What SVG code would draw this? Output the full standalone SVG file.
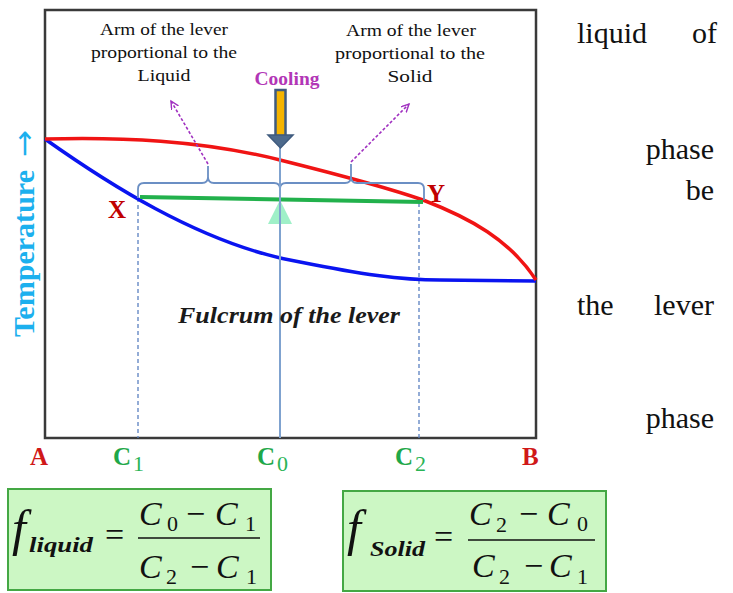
<svg xmlns="http://www.w3.org/2000/svg" width="733" height="593" viewBox="0 0 733 593">
<style>
.serif{font-family:"Liberation Serif","Times New Roman",serif}
.arm{font-family:"Liberation Serif",serif;font-size:17px;fill:#111;text-anchor:middle}
.para{font-family:"Liberation Serif",serif;font-size:30px;fill:#111}
.lbl{font-family:"Liberation Serif",serif;font-size:25px;font-weight:bold}
.green{fill:#1fa84a}
.red{fill:#d01818}
.sub{font-family:"Liberation Serif",serif;font-size:22px;fill:#2ab455}
.fx{font-family:"Liberation Serif",serif;fill:#111}
.dash{stroke:#5a80c0;stroke-width:1.3;stroke-dasharray:4 3;fill:none}
.brace{stroke:#6b8fc4;stroke-width:1.8;fill:none}
.purple{stroke:#a030c0;stroke-width:1.6;stroke-dasharray:3 2;fill:none;marker-end:url(#open)}
.box{fill:#ccf7c4;stroke:#44a844;stroke-width:2}
</style>
<defs>
<marker id="open" markerWidth="10" markerHeight="10" refX="8" refY="4" orient="auto" markerUnits="userSpaceOnUse">
<path d="M0,0 L8,4 L0,8" fill="none" stroke="#a030c0" stroke-width="1.4"/>
</marker>
</defs>
<rect width="733" height="593" fill="#fff"/>

<g id="frame">
<rect x="45" y="10" width="491" height="428" fill="none" stroke="#3a3a3a" stroke-width="2.5"/>
</g>

<g id="connectors">
<path class="dash" d="M138,198 V438"/>
<path class="dash" d="M419,203 V438"/>
<path d="M45,139 C100,178 200,245 300,262 C360,274 400,280 440,280 L536,281" fill="none" stroke="#0a14f0" stroke-width="3.5"/>
<path d="M45,139 C120,137 200,140 280,160 S400,192 423,200 C470,218 510,240 536,280" fill="none" stroke="#f01414" stroke-width="3.5"/>
<line x1="140" y1="197" x2="423" y2="202" stroke="#22b14c" stroke-width="4"/>
<path class="brace" d="M138,198 V189 Q138,183 144,183 H202 Q208,183 208,177 V166 V177 Q208,183 214,183 H274 Q280,183 280,189"/>
<path class="brace" d="M280,189 Q280,183 286,183 H345 Q351,183 351,177 V164 V177 Q351,183 357,183 H418 Q424,183 424,189 V200"/>
<path class="purple" d="M208,164 L171,101"/>
<path class="purple" d="M351,162 L409,104"/>
<line x1="280" y1="146" x2="280" y2="438" stroke="#7fa2cf" stroke-width="2"/>
</g>

<g id="fulcrum">
<polygon points="280,200 268,224 292,224" fill="#9ff0c8"/>
<line x1="280" y1="200" x2="280" y2="226" stroke="#7fa2cf" stroke-width="2"/>
</g>

<g id="cooling">
<rect x="275.5" y="90" width="10" height="46" fill="#f5b400" stroke="#3f5b7e" stroke-width="2.5"/>
<polygon points="268,135 293,135 280.5,148" fill="#4d6a8c" stroke="#3f5b7e" stroke-width="1.5"/>
<text class="serif" x="287" y="85" font-size="18" font-weight="bold" fill="#b236b6" text-anchor="middle" textLength="65" lengthAdjust="spacingAndGlyphs">Cooling</text>
</g>

<g id="arm-liquid">
<text class="arm" x="164" y="35" textLength="128" lengthAdjust="spacingAndGlyphs">Arm of the lever</text>
<text class="arm" x="164" y="58" textLength="146" lengthAdjust="spacingAndGlyphs">proportional to the</text>
<text class="arm" x="164" y="81" textLength="53" lengthAdjust="spacingAndGlyphs">Liquid</text>
</g>

<g id="arm-solid">
<text class="arm" x="411" y="36" textLength="130" lengthAdjust="spacingAndGlyphs">Arm of the lever</text>
<text class="arm" x="410" y="59" textLength="150" lengthAdjust="spacingAndGlyphs">proportional to the</text>
<text class="arm" x="410" y="82" textLength="45" lengthAdjust="spacingAndGlyphs">Solid</text>
</g>

<g id="fulcrum-label">
<text class="serif" x="178" y="323" font-size="23" font-weight="bold" font-style="italic" fill="#1a1a1a" textLength="222" lengthAdjust="spacingAndGlyphs">Fulcrum of the lever</text>
</g>

<g id="axis-label">
<text class="serif" transform="translate(34,337) rotate(-90)" font-size="29" font-weight="bold" fill="#1cb0ee"><tspan textLength="167" lengthAdjust="spacingAndGlyphs">Temperature</tspan><tspan x="180" font-family="'DejaVu Sans',sans-serif" font-weight="normal" font-size="29" textLength="27" lengthAdjust="spacingAndGlyphs">→</tspan></text>
</g>

<g id="points">
<text class="lbl" x="108" y="218" fill="#c00000" font-size="26">X</text>
<text class="lbl" x="427" y="202" fill="#c00000" font-size="26">Y</text>
</g>

<g id="axis-ticks">
<text class="lbl red" x="30" y="465">A</text>
<text class="lbl red" x="522" y="465">B</text>
<text class="lbl green" x="113" y="465">C</text><text class="sub" x="133" y="471">1</text>
<text class="lbl green" x="257" y="465">C</text><text class="sub" x="277" y="471">0</text>
<text class="lbl green" x="395" y="465">C</text><text class="sub" x="415" y="471">2</text>
</g>

<g id="formula-liquid">
<rect class="box" x="8" y="489" width="263" height="101"/>
<text class="fx" x="12" y="545" font-size="50" font-style="italic">f</text>
<text class="fx" x="29" y="552" font-size="22" font-style="italic" font-weight="bold" textLength="64" lengthAdjust="spacingAndGlyphs">liquid</text>
<text class="fx" x="105" y="546" font-size="34">=</text>
<line x1="138" y1="538" x2="260" y2="538" stroke="#111" stroke-width="1.6"/>
<text class="fx" x="139" y="525" font-size="34" font-style="italic">C</text>
<text class="fx" x="167" y="531" font-size="22">0</text>
<text class="fx" x="186" y="525" font-size="34">−</text>
<text class="fx" x="215" y="525" font-size="34" font-style="italic">C</text>
<text class="fx" x="245" y="531" font-size="22">1</text>
<text class="fx" x="139" y="578" font-size="34" font-style="italic">C</text>
<text class="fx" x="166" y="584" font-size="22">2</text>
<text class="fx" x="190" y="578" font-size="34">−</text>
<text class="fx" x="216" y="578" font-size="34" font-style="italic">C</text>
<text class="fx" x="246" y="584" font-size="22">1</text>
</g>

<g id="formula-solid">
<rect class="box" x="343" y="491" width="263" height="100"/>
<text class="fx" x="347" y="545" font-size="50" font-style="italic">f</text>
<text class="fx" x="370" y="556" font-size="22" font-style="italic" font-weight="bold" textLength="55" lengthAdjust="spacingAndGlyphs">Solid</text>
<text class="fx" x="434" y="548" font-size="34">=</text>
<line x1="468" y1="540" x2="595" y2="540" stroke="#111" stroke-width="1.6"/>
<text class="fx" x="469" y="525" font-size="34" font-style="italic">C</text>
<text class="fx" x="496" y="532" font-size="22">2</text>
<text class="fx" x="519" y="525" font-size="34">−</text>
<text class="fx" x="547" y="525" font-size="34" font-style="italic">C</text>
<text class="fx" x="577" y="531" font-size="22">0</text>
<text class="fx" x="472" y="577" font-size="34" font-style="italic">C</text>
<text class="fx" x="499" y="584" font-size="22">2</text>
<text class="fx" x="524" y="577" font-size="34">−</text>
<text class="fx" x="549" y="577" font-size="34" font-style="italic">C</text>
<text class="fx" x="577" y="584" font-size="22">1</text>
</g>

<g id="side-text">
<text class="para" x="577" y="43">liquid</text>
<text class="para" x="717" y="43" text-anchor="end">of</text>
<text class="para" x="714" y="159" text-anchor="end">phase</text>
<text class="para" x="714" y="200" text-anchor="end">be</text>
<text class="para" x="577" y="315">the</text>
<text class="para" x="714" y="315" text-anchor="end">lever</text>
<text class="para" x="714" y="428" text-anchor="end">phase</text>
</g>
</svg>
